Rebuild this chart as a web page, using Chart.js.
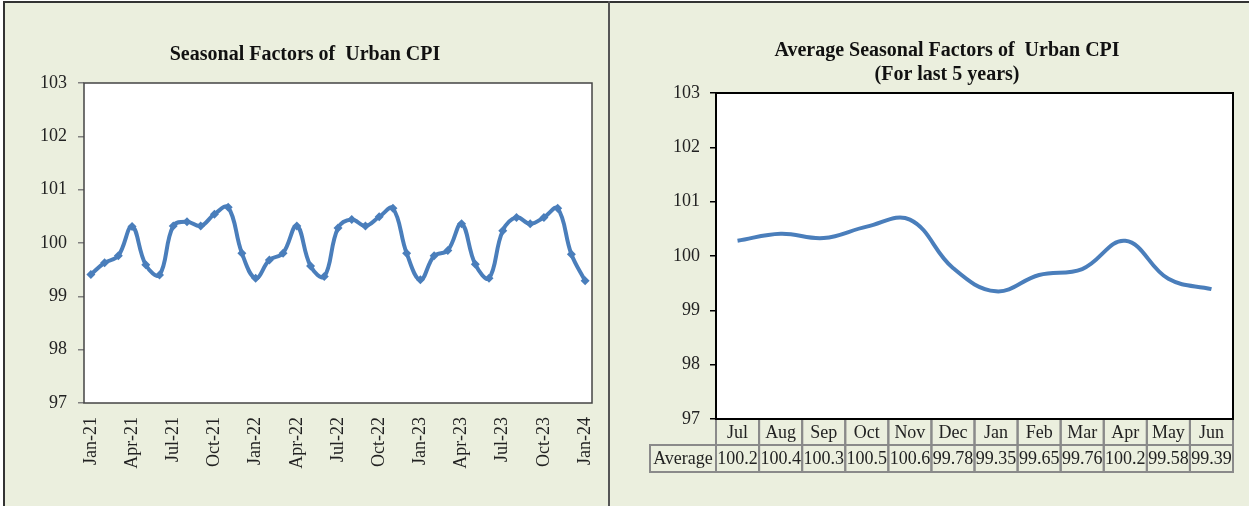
<!DOCTYPE html>
<html>
<head>
    <title>Seasonal Factors of Urban CPI</title>
    <script src="https://cdn.jsdelivr.net/npm/chart.js"></script>
    <style>
        body { margin: 0; background: #fff; width: 1249px; height: 506px; overflow: hidden; position: relative; }
        #panel { position: absolute; left: 3px; top: 1px; width: 1246px; height: 505px; background: #EBEFDE;
                 border-top: 2px solid #333; border-left: 2px solid #333; }
        #divider { position: absolute; left: 608px; top: 1px; width: 2px; height: 505px; background: #555; }
        #leftBox { position: absolute; left: 5px; top: 4px; width: 603px; height: 502px; }
        #rightBox { position: absolute; left: 611px; top: 4px; width: 638px; height: 502px; }
    </style>
</head>
<body>
    <div id="panel"></div>
    <div id="divider"></div>
    <div id="leftBox"><canvas id="urbanChart"></canvas></div>
    <div id="rightBox"><canvas id="avgChart"></canvas></div>
    <script>
        // monthly seasonal factors, Jan-21 .. Jan-24
        const months = ['Jan-21', 'Feb-21', 'Mar-21', 'Apr-21', 'May-21', 'Jun-21', 'Jul-21', 'Aug-21', 'Sep-21', 'Oct-21', 'Nov-21', 'Dec-21',
                        'Jan-22', 'Feb-22', 'Mar-22', 'Apr-22', 'May-22', 'Jun-22', 'Jul-22', 'Aug-22', 'Sep-22', 'Oct-22', 'Nov-22', 'Dec-22',
                        'Jan-23', 'Feb-23', 'Mar-23', 'Apr-23', 'May-23', 'Jun-23', 'Jul-23', 'Aug-23', 'Sep-23', 'Oct-23', 'Nov-23', 'Dec-23',
                        'Jan-24'];
        const urbanFactors = [99.41, 99.63, 99.76, 100.31, 99.59, 99.40, 100.32, 100.40, 100.32, 100.54, 100.67, 99.81,
                              99.34, 99.68, 99.81, 100.32, 99.57, 99.37, 100.28, 100.44, 100.32, 100.49, 100.65, 99.81,
                              99.31, 99.76, 99.86, 100.36, 99.60, 99.34, 100.23, 100.48, 100.36, 100.48, 100.65, 99.79,
                              99.29];

        // 5-year averages, fiscal year order
        const avgMonths = ['Jul', 'Aug', 'Sep', 'Oct', 'Nov', 'Dec', 'Jan', 'Feb', 'Mar', 'Apr', 'May', 'Jun'];
        const avgFactors = [100.28, 100.41, 100.33, 100.54, 100.67, 99.78, 99.35, 99.65, 99.76, 100.28, 99.58, 99.39];
        const avgTable = ['100.2', '100.4', '100.3', '100.5', '100.6', '99.78', '99.35', '99.65', '99.76', '100.2', '99.58', '99.39'];

        const yTicks = { min: 97, max: 103, step: 1 };

        const serif = "'Liberation Serif', 'Times New Roman', serif";
        const lineBlue = '#4A7EBB';

        // white plot area with a dark frame, like the Excel plot area
        function framePlugin(color, width) {
            return {
                id: 'frame',
                beforeDraw(chart) {
                    const a = chart.chartArea, ctx = chart.ctx;
                    ctx.save();
                    ctx.fillStyle = '#fff';
                    ctx.fillRect(a.left, a.top, a.right - a.left, a.bottom - a.top);
                    ctx.restore();
                },
                afterDraw(chart) {
                    const a = chart.chartArea, ctx = chart.ctx;
                    ctx.save();
                    ctx.strokeStyle = color;
                    ctx.lineWidth = width;
                    ctx.strokeRect(a.left, a.top, a.right - a.left, a.bottom - a.top);
                    ctx.restore();
                }
            };
        }

        // data table under the right chart, columns taken from the x scale
        const tablePlugin = {
            id: 'dataTable',
            afterDraw(chart) {
                const x = chart.scales.x, a = chart.chartArea, ctx = chart.ctx;
                const half = (x.getPixelForValue(1) - x.getPixelForValue(0)) / 2;
                const top = a.bottom, mid = top + 26, bot = mid + 27;
                ctx.save();
                ctx.strokeStyle = '#8a8a8a';
                ctx.lineWidth = 2;
                ctx.fillStyle = '#222';
                ctx.font = '18px ' + serif;
                ctx.textAlign = 'center';
                ctx.textBaseline = 'middle';
                avgMonths.forEach((m, i) => {
                    const cx = x.getPixelForValue(i);
                    ctx.strokeRect(cx - half, top, half * 2, mid - top);
                    ctx.strokeRect(cx - half, mid, half * 2, bot - mid);
                    ctx.fillText(m, cx, (top + mid) / 2 + 1);
                    ctx.fillText(avgTable[i], cx, (mid + bot) / 2 + 1);
                });
                const left = a.left - 66;
                ctx.strokeRect(left, mid, a.left - left, bot - mid);
                ctx.fillText('Average', (left + a.left) / 2, (mid + bot) / 2 + 1);
                ctx.restore();
            }
        };

        const yAxis = (tickColor, width, pad) => ({
            min: yTicks.min,
            max: yTicks.max,
            ticks: { stepSize: yTicks.step, padding: pad, color: '#222', font: { family: serif, size: 18 } },
            grid: { drawOnChartArea: false, tickLength: 6, color: tickColor, tickColor: tickColor, lineWidth: 1.5 },
            border: { display: false },
            afterFit(s) { s.width = width; }
        });

        new Chart(document.getElementById('urbanChart'), {
            type: 'line',
            data: {
                labels: months,
                datasets: [{
                    data: urbanFactors,
                    borderColor: lineBlue,
                    backgroundColor: lineBlue,
                    borderWidth: 4,
                    tension: 0.4,
                    pointStyle: 'rectRot',
                    pointRadius: 4.5,
                    pointBorderWidth: 0
                }]
            },
            options: {
                responsive: true,
                maintainAspectRatio: false,
                animation: false,
                layout: { padding: { left: 13, right: 16, top: 0, bottom: 0 } },
                plugins: {
                    legend: { display: false },
                    tooltip: { enabled: false },
                    title: {
                        display: true,
                        text: 'Seasonal Factors of  Urban CPI',
                        color: '#111',
                        font: { family: serif, size: 20, weight: 'bold', lineHeight: 1.2 },
                        padding: { top: 39, bottom: 16 }
                    }
                },
                scales: {
                    x: {
                        offset: true,
                        grid: { display: false, drawTicks: false, tickLength: 0 },
                        border: { display: false },
                        ticks: {
                            autoSkip: false,
                            minRotation: 90,
                            maxRotation: 90,
                            padding: 14,
                            color: '#222',
                            font: { family: serif, size: 18 },
                            callback(v, i) { return i % 3 === 0 ? this.getLabelForValue(v) : ''; }
                        },
                        afterFit(s) { s.height = 103; s.paddingLeft = 0; s.paddingRight = 0; }
                    },
                    y: yAxis('#808080', 66, 11)
                }
            },
            plugins: [framePlugin('#444', 1.5)]
        });

        new Chart(document.getElementById('avgChart'), {
            type: 'line',
            data: {
                labels: avgMonths,
                datasets: [{
                    data: avgFactors,
                    borderColor: lineBlue,
                    borderWidth: 4,
                    tension: 0.4,
                    pointRadius: 0
                }]
            },
            options: {
                responsive: true,
                maintainAspectRatio: false,
                animation: false,
                layout: { padding: { left: 50, right: 16, top: 0, bottom: 0 } },
                plugins: {
                    legend: { display: false },
                    tooltip: { enabled: false },
                    title: {
                        display: true,
                        text: ['Average Seasonal Factors of  Urban CPI', '(For last 5 years)'],
                        color: '#111',
                        font: { family: serif, size: 20, weight: 'bold', lineHeight: 1.2 },
                        padding: { top: 35, bottom: 6 }
                    }
                },
                scales: {
                    x: {
                        offset: true,
                        grid: { display: false, drawTicks: false, tickLength: 0 },
                        border: { display: false },
                        ticks: { display: false },
                        afterFit(s) { s.height = 87; }
                    },
                    y: yAxis('#000', 55, 10)
                }
            },
            plugins: [tablePlugin, framePlugin('#000', 2)]
        });
    </script>
</body>
</html>
